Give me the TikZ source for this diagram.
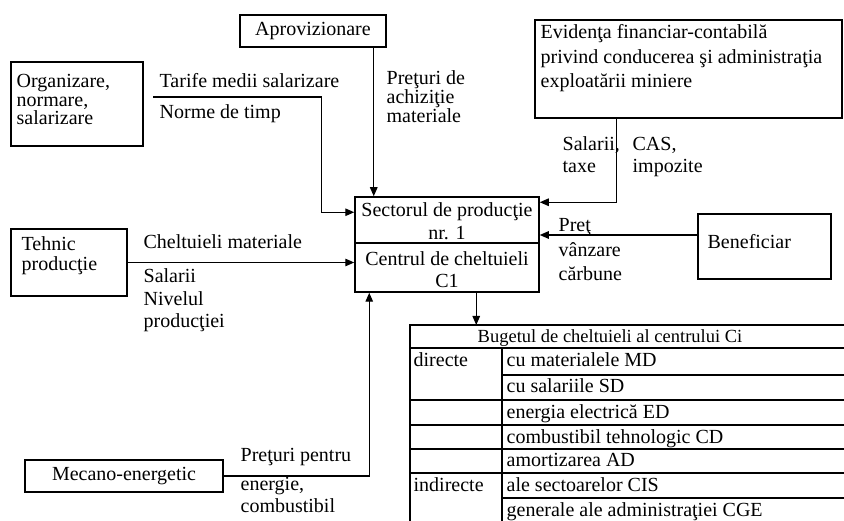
\documentclass[tikz,border=0pt]{standalone}
\usepackage{fontspec}
\setmainfont{Liberation Serif}
\usetikzlibrary{arrows.meta,calc}
\begin{document}
\begin{tikzpicture}[x=1pt,y=-1pt,
  line width=1.3pt,
  txt/.style={font=\fontsize{20}{20}\selectfont, inner sep=0pt, align=left, anchor=base west},
  ctxt/.style={font=\fontsize{20}{20}\selectfont, inner sep=0pt, anchor=base},
  box/.style={draw, line width=1.5pt, inner sep=0pt, font=\fontsize{20}{20}\selectfont},
  arr/.style={-{Triangle[length=9pt,width=7.5pt]}},
  tbl/.style={line width=1.2pt}]
\useasboundingbox[fill=white] (0,0) rectangle (844,521);

% boxes
\node[box, minimum width=146, minimum height=32] (aprov) at (313,31) {Aprovizionare};
\node[box, minimum width=132, minimum height=84] (org) at (77,104) {};
\node[box, minimum width=307, minimum height=98] (evid) at (688.5,69) {};
\node[box, minimum width=116, minimum height=67] (tehnic) at (69,262.5) {};
\node[box, minimum width=184, minimum height=95] (sector) at (447,244.5) {};
\node[box, minimum width=133, minimum height=65] (benef) at (764.5,246.5) {};
\node[box, minimum width=198, minimum height=32] (mecano) at (124,476) {Mecano-energetic};

% texts in boxes (base anchor = last line)
\node[txt, font=\fontsize{20}{18.5}\selectfont] (orgt) at (16,125) {Organizare,\\normare,\\salarizare};
\node[txt, font=\fontsize{20}{24.5}\selectfont] (evidt) at (540,88) {Eviden\c{t}a financiar-contabil\u{a}\\privind conducerea \c{s}i administra\c{t}ia\\exploat\u{a}rii miniere};
\node[txt, font=\fontsize{20}{20}\selectfont] (tehnict) at (21,271) {Tehnic\\produc\c{t}ie};
\node[txt] (beneft) at (707,249) {Beneficiar};
\node[ctxt] (sec1) at (447,217) {Sectorul de produc\c{t}ie};
\node[ctxt] (sec2) at (447,240) {nr. 1};
\node[ctxt] (sec3) at (447,266) {Centrul de cheltuieli};
\node[ctxt] (sec4) at (447,288) {C1};
\draw[line width=1.3pt] (sector.west |- 0,243) -- (sector.east |- 0,243);

% labels
\node[txt] (tarife) at (159,88) {Tarife medii salarizare};
\node[txt] (norme) at (159,119) {Norme de timp};
\node[txt, font=\fontsize{20}{19}\selectfont] (pretach) at (386,123) {Pre\c{t}uri de\\achizi\c{t}ie\\materiale};
\node[txt, font=\fontsize{20}{22}\selectfont] (saltax) at (562,173) {Salarii,\\taxe};
\node[txt, font=\fontsize{20}{22}\selectfont] (cas) at (632,173) {CAS,\\impozite};
\node[txt] (chelt) at (143,249) {Cheltuieli materiale};
\node[txt, font=\fontsize{20}{22.5}\selectfont] (salniv) at (143,328) {Salarii\\Nivelul\\produc\c{t}iei};
\node[txt, font=\fontsize{20}{24.5}\selectfont] (pretv) at (558,281) {Pre\c{t}\\v\^anzare\\c\u{a}rbune};
\node[txt, font=\fontsize{20}{22}\selectfont] (pretpe) at (240,512) {Pre\c{t}uri pentru\\[7pt]energie,\\combustibil};

% connectors
\draw[arr] ($(aprov.south east)+(-13,0)$) coordinate (a1) -- (a1 |- sector.north);
\coordinate (tarA) at (153,97);
\draw[arr] (tarA) -| ($(sector.north west)+(-33,16)$) -- ($(sector.north west)+(0,16)$);
\draw[arr] ($(evid.south west)+(82,0)$) |- ($(sector.north east)+(0,6)$);
\draw[arr] ($(benef.west)+(0,-11.5)$) coordinate (b1) -- (b1 -| sector.east);
\draw[arr] (tehnic.east) -- (tehnic.east -| sector.west);
\draw[arr] (mecano.east) -| ($(sector.south west)+(15,0)$);
\coordinate (budget) at (410,325);
\draw[arr] ($(sector.south west)+(122,0)$) coordinate (s1) -- (s1 |- budget);

% budget table
\draw[tbl] (846,325) -- (410,325) -- (410,523);
\draw[tbl] (410,348) -- (846,348);
\draw[tbl] (502,348) -- (502,523);
\draw[tbl] (502,375) -- (846,375);
\draw[tbl] (410,400) -- (846,400);
\draw[tbl] (410,425) -- (846,425);
\draw[tbl] (410,449) -- (846,449);
\draw[tbl] (410,473) -- (846,473);
\draw[tbl] (502,498) -- (846,498);
\node[ctxt, font=\fontsize{18.5}{18.5}\selectfont] (bhead) at (610,343) {Bugetul de cheltuieli al centrului Ci};
\node[txt] (dir) at (413,367) {directe};
\node[txt] (ind) at (413,491) {indirecte};
\node[txt] (r1) at (506,367) {cu materialele MD};
\node[txt] (r2) at (506,393) {cu salariile SD};
\node[txt] (r3) at (506,418) {energia electric\u{a} ED};
\node[txt] (r4) at (506,443) {combustibil tehnologic CD};
\node[txt] (r5) at (506,467) {amortizarea AD};
\node[txt] (r6) at (506,491) {ale sectoarelor CIS};
\node[txt] (r7) at (506,516) {generale ale administra\c{t}iei CGE};
\end{tikzpicture}
\end{document}
